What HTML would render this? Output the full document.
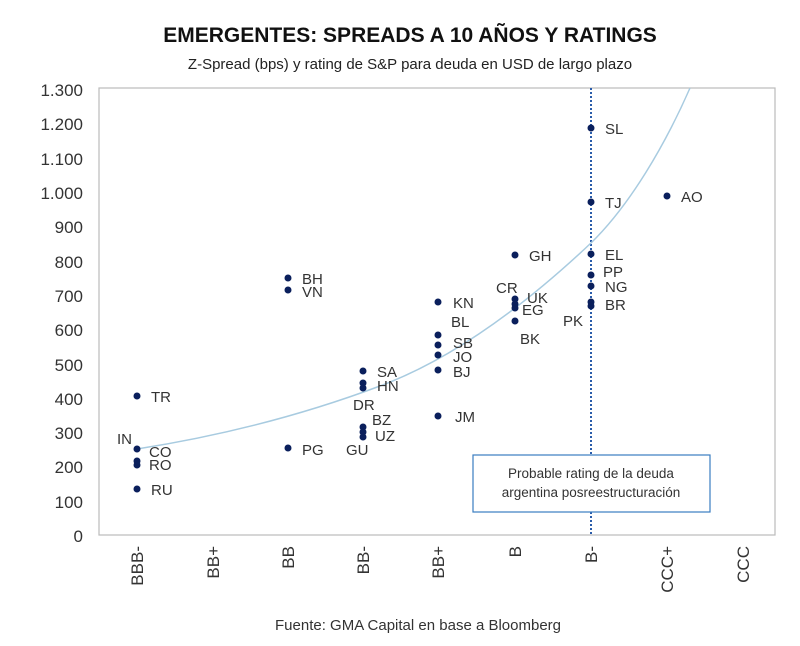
<!DOCTYPE html>
<html><head><meta charset="utf-8"><style>
body{margin:0;background:#fff;}
svg{display:block;font-family:"Liberation Sans",sans-serif;}
</style></head><body>
<svg width="800" height="646" viewBox="0 0 800 646">
<text x="410" y="42" text-anchor="middle" font-size="21" font-weight="bold" fill="#111">EMERGENTES: SPREADS A 10 AÑOS Y RATINGS</text>
<text x="410" y="69" text-anchor="middle" font-size="15" fill="#222">Z-Spread (bps) y rating de S&amp;P para deuda en USD de largo plazo</text>
<rect x="99" y="88" width="676" height="447" fill="none" stroke="#bbb" stroke-width="1.2"/>
<g font-size="17" fill="#333" text-anchor="end">
<text x="83" y="96">1.300</text><text x="83" y="130">1.200</text><text x="83" y="165">1.100</text>
<text x="83" y="199">1.000</text><text x="83" y="233">900</text><text x="83" y="268">800</text>
<text x="83" y="302">700</text><text x="83" y="336">600</text><text x="83" y="371">500</text>
<text x="83" y="405">400</text><text x="83" y="439">300</text><text x="83" y="473">200</text>
<text x="83" y="508">100</text><text x="83" y="542">0</text>
</g>
<line x1="591" y1="88" x2="591" y2="535" stroke="#2a5caa" stroke-width="2" stroke-dasharray="2,2"/>
<path d="M137,449 C220,436 300,416 380,386 C450,360 520,310 591,243 C630,205 665,145 690,88" fill="none" stroke="#a8cbe0" stroke-width="1.5"/>
<g fill="#0a1f5c">
<circle cx="137" cy="396" r="3.5"/><circle cx="137" cy="449" r="3.5"/><circle cx="137" cy="461" r="3.5"/><circle cx="137" cy="465" r="3.5"/><circle cx="137" cy="489" r="3.5"/>
<circle cx="288" cy="278" r="3.5"/><circle cx="288" cy="290" r="3.5"/><circle cx="288" cy="448" r="3.5"/>
<circle cx="363" cy="371" r="3.5"/><circle cx="363" cy="383" r="3.5"/><circle cx="363" cy="388" r="3.5"/><circle cx="363" cy="427" r="3.5"/><circle cx="363" cy="432" r="3.5"/><circle cx="363" cy="437" r="3.5"/>
<circle cx="438" cy="302" r="3.5"/><circle cx="438" cy="335" r="3.5"/><circle cx="438" cy="345" r="3.5"/><circle cx="438" cy="355" r="3.5"/><circle cx="438" cy="370" r="3.5"/><circle cx="438" cy="416" r="3.5"/>
<circle cx="515" cy="255" r="3.5"/><circle cx="515" cy="299" r="3.5"/><circle cx="515" cy="304" r="3.5"/><circle cx="515" cy="308" r="3.5"/><circle cx="515" cy="321" r="3.5"/>
<circle cx="591" cy="128" r="3.5"/><circle cx="591" cy="202" r="3.5"/><circle cx="591" cy="254" r="3.5"/><circle cx="591" cy="275" r="3.5"/><circle cx="591" cy="286" r="3.5"/><circle cx="591" cy="302" r="3.5"/><circle cx="591" cy="306" r="3.5"/>
<circle cx="667" cy="196" r="3.5"/>
</g>
<g font-size="15" fill="#333">
<text x="151" y="402">TR</text><text x="117" y="444">IN</text><text x="149" y="457">CO</text><text x="149" y="470">RO</text><text x="151" y="495">RU</text>
<text x="302" y="284">BH</text><text x="302" y="297">VN</text><text x="302" y="455">PG</text>
<text x="377" y="377">SA</text><text x="377" y="391">HN</text><text x="353" y="410">DR</text><text x="372" y="425">BZ</text><text x="375" y="441">UZ</text><text x="346" y="455">GU</text>
<text x="453" y="308">KN</text><text x="451" y="327">BL</text><text x="453" y="348">SB</text><text x="453" y="362">JO</text><text x="453" y="377">BJ</text><text x="455" y="422">JM</text>
<text x="529" y="261">GH</text><text x="496" y="293">CR</text><text x="527" y="303">UK</text><text x="522" y="315">EG</text><text x="520" y="344">BK</text><text x="563" y="326">PK</text>
<text x="605" y="134">SL</text><text x="605" y="208">TJ</text><text x="605" y="260">EL</text><text x="603" y="277">PP</text><text x="605" y="292">NG</text><text x="605" y="310">BR</text>
<text x="681" y="202">AO</text>
</g>
<rect x="473" y="455" width="237" height="57" fill="#fff" stroke="#3a7dc0" stroke-width="1.2"/>
<text x="591" y="478" text-anchor="middle" font-size="13.5" fill="#333">Probable rating de la deuda</text>
<text x="591" y="497" text-anchor="middle" font-size="13.5" fill="#333">argentina posreestructuración</text>
<g font-size="17" fill="#333" text-anchor="end">
<text transform="translate(143,546) rotate(-90)">BBB-</text>
<text transform="translate(219,546) rotate(-90)">BB+</text>
<text transform="translate(294,546) rotate(-90)">BB</text>
<text transform="translate(369,546) rotate(-90)">BB-</text>
<text transform="translate(444,546) rotate(-90)">BB+</text>
<text transform="translate(521,546) rotate(-90)">B</text>
<text transform="translate(597,546) rotate(-90)">B-</text>
<text transform="translate(673,546) rotate(-90)">CCC+</text>
<text transform="translate(749,546) rotate(-90)">CCC</text>
</g>
<text x="418" y="630" text-anchor="middle" font-size="15" fill="#333">Fuente: GMA Capital en base a Bloomberg</text>
</svg>
</body></html>
